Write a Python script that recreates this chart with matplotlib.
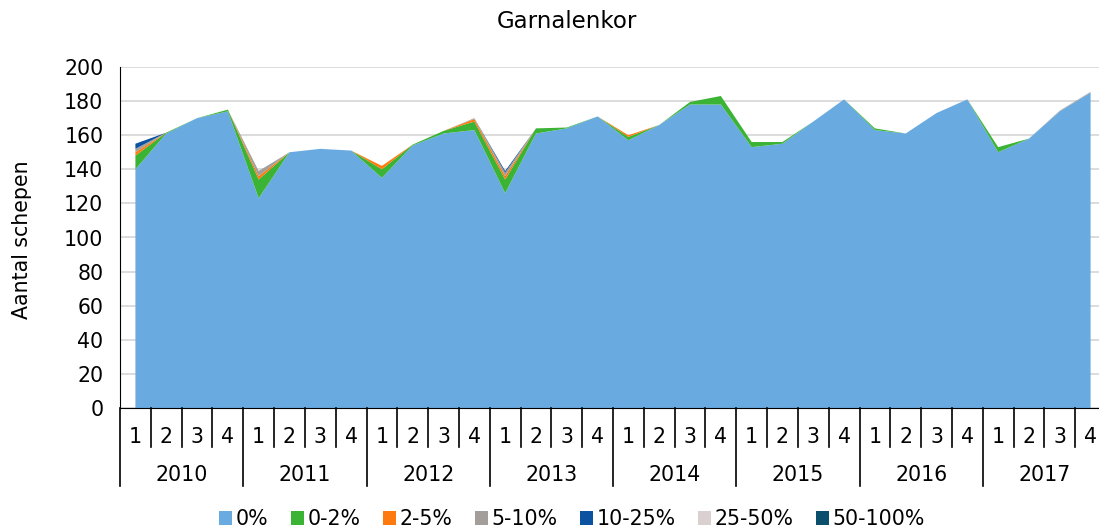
import numpy as np
import matplotlib.pyplot as plt
from matplotlib.transforms import blended_transform_factory

# data (quarters 1-4, 2010-2017)
years = ['2010', '2011', '2012', '2013', '2014', '2015', '2016', '2017']
quarters = ['1', '2', '3', '4']
klassen = ['0%', '0-2%', '2-5%', '5-10%', '10-25%', '25-50%', '50-100%']

p0 = [140, 161, 170, 174,  123, 150, 152, 151,  135, 154, 161, 163,  126, 161, 164, 171,
      157, 166, 178, 178,  153, 155, 168, 181,  163, 161, 173, 181,  150, 158, 174, 185]
p0_2 = [8, 0.5, 0, 1,  11, 0, 0, 0,  5, 0.5, 1.5, 5,  8, 3, 0.5, 0,
        2, 0, 1.5, 5,  3, 1, 0, 0,  1, 0, 0, 0,  3, 0, 0, 0]
p2_5 = [2, 0, 0, 0,  2, 0, 0, 0,  2, 0, 0, 1.5,  2, 0, 0, 0,
        1, 0, 0, 0,  0, 0, 0, 0,  0, 0, 0, 0,  0, 0, 0, 0]
p5_10 = [2, 0, 0, 0,  3, 0, 0, 0,  0, 0, 0, 0.5,  2, 0, 0, 0,
         0, 0, 0, 0,  0, 0, 0, 0,  0, 0, 0, 0,  0, 0, 0.4, 0.4]
p10_25 = [3, 0, 0, 0,  0, 0, 0, 0,  0, 0, 0, 0,  1, 0, 0, 0,
          0, 0, 0, 0,  0, 0, 0, 0,  0, 0, 0, 0,  0, 0, 0, 0]
p25_50 = [0] * 32
p50_100 = [0] * 32

colors = ['#69abe1', '#3bb335', '#ff7a0e', '#a39e9a', '#0b52a0', '#dbd0d0', '#0c4f6c']

plt.rcParams['font.family'] = 'DejaVu Sans'
fs = 14.8

fig = plt.figure(figsize=(10.99, 5.28), dpi=100)
ax = fig.add_axes([120 / 1099, 120 / 528, 986 / 1099, 341 / 528])

x = np.arange(len(p0))
series = [p0, p0_2, p2_5, p5_10, p10_25, p25_50, p50_100]
ax.stackplot(x, *series, colors=colors, labels=klassen, linewidth=0)

ax.set_xlim(-0.5, len(x) - 0.5)
ax.set_ylim(0, 200)
ax.set_yticks(range(0, 201, 20))
ax.tick_params(axis='y', length=0, pad=12, labelsize=fs)
ax.set_xticks([])
ax.yaxis.grid(True, color='#d9d9d9', linewidth=1.3)
ax.set_axisbelow(True)
for s in ['top', 'right']:
    ax.spines[s].set_visible(False)
ax.spines['left'].set_color('black')
ax.spines['bottom'].set_color('black')

# two-level category axis
tr = blended_transform_factory(ax.transData, ax.transAxes)
for i in range(len(x) + 1):
    b = i - 0.5
    low = -0.229 if i % 4 == 0 else -0.114
    ax.plot([b, b], [0, low], color='black', lw=1.2, transform=tr, clip_on=False)
for i in range(len(x)):
    ax.text(i, -0.085, quarters[i % 4], transform=tr, ha='center', va='center', fontsize=fs)
for j, yr in enumerate(years):
    ax.text(j * 4 + 1.5, -0.196, yr, transform=tr, ha='center', va='center', fontsize=fs)

fig.text(567 / 1099, 1 - 22 / 528, 'Garnalenkor', ha='center', va='center', fontsize=16.5)
fig.text(22 / 1099, 1 - 240 / 528, 'Aantal schepen', ha='center', va='center',
         rotation=90, fontsize=fs)

fig.legend(loc='center', bbox_to_anchor=(572 / 1099, 1 - 519 / 528), ncol=7,
           frameon=False, fontsize=fs, handlelength=0.65, handleheight=0.65,
           handletextpad=0.15, columnspacing=1.1)

fig.savefig('out.png', dpi=100)
